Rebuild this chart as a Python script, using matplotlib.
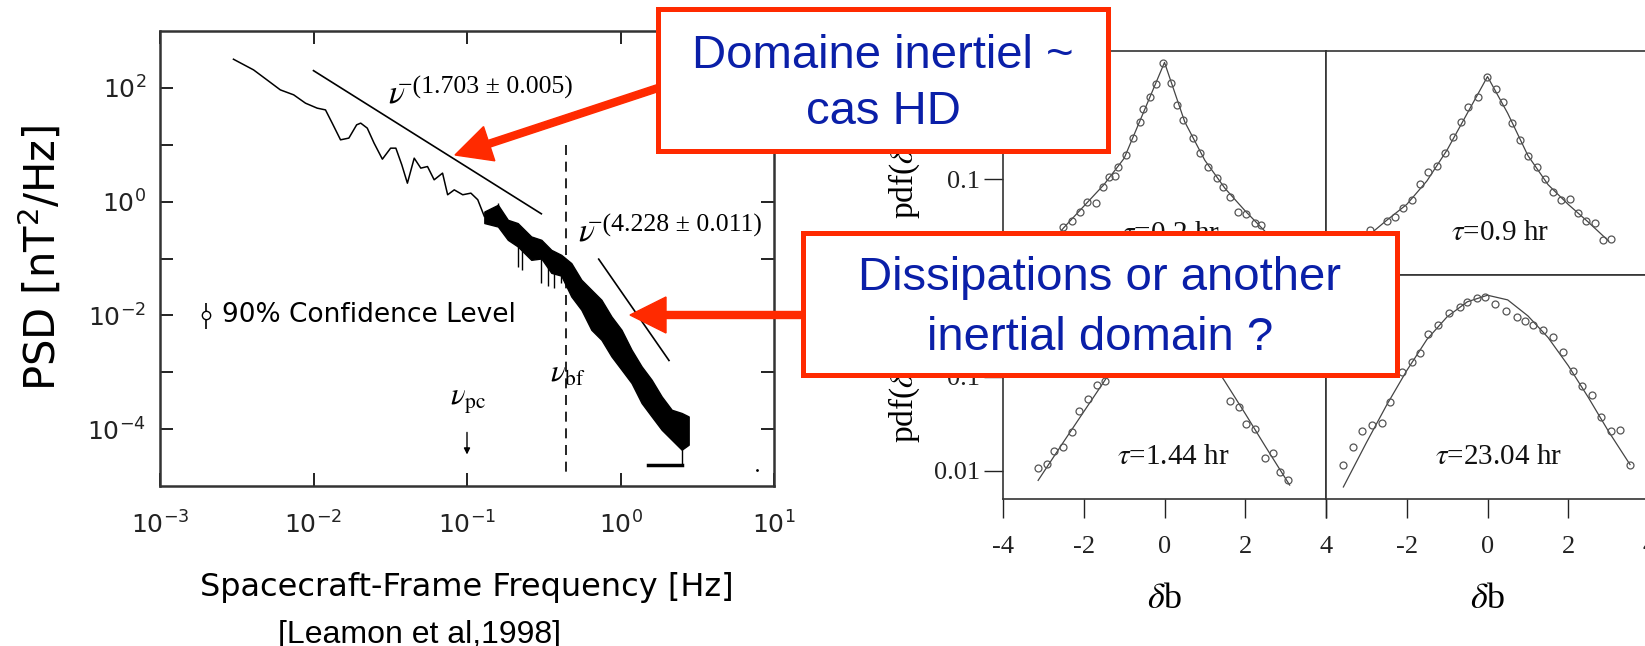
import matplotlib
matplotlib.use('Agg')
import matplotlib.pyplot as plt
from matplotlib.patches import Rectangle, FancyArrow
from matplotlib.transforms import IdentityTransform
from matplotlib.ticker import NullLocator

W, H = 1645, 646
RED = '#ff2a00'
BLUE = '#0a1fa8'
SERIF = 'Liberation Serif'

# ---- left panel: magnetic power spectrum ----
freq_thin = [0.00301, 0.00407, 0.00498, 0.00608, 0.00743, 0.00887, 0.01057, 0.01197,
             0.01324, 0.0150, 0.0170, 0.0191, 0.0203, 0.0224, 0.0248, 0.0281, 0.0318,
             0.0344, 0.0376, 0.0409, 0.0453, 0.0500, 0.0553, 0.0611, 0.0693, 0.0748,
             0.0826, 0.0938, 0.106, 0.1175, 0.1297]
psd_thin = [319, 207, 138, 92.2, 75.4, 53.8, 44.0, 41.0, 24.0, 12.2, 13.1, 22.4, 24.0,
            19.6, 10.7, 5.58, 8.71, 8.71, 4.44, 2.11, 5.81, 3.88, 4.14, 2.42, 3.17, 1.32,
            1.61, 1.32, 1.41, 1.08, 0.55]

freq_band = [0.1297, 0.159, 0.1845, 0.214, 0.262, 0.305, 0.354, 0.411, 0.478, 0.556,
             0.646, 0.751, 0.873, 1.015, 1.18, 1.372, 1.595, 1.854, 2.155, 2.505, 2.78]
psd_band_hi = [0.670, 0.879, 0.479, 0.419, 0.244, 0.213, 0.142, 0.116, 0.083, 0.0423,
               0.0282, 0.0188, 0.00957, 0.00558, 0.00249, 0.00127, 0.000738, 0.000376,
               0.000219, 0.000192, 0.000167]
psd_band_lo = [0.42, 0.365, 0.213, 0.163, 0.0948, 0.100, 0.056, 0.050, 0.0215, 0.01253,
               0.00558, 0.00372, 0.0019, 0.00111, 0.000646, 0.000288, 0.000167, 9.75e-5,
               6.51e-5, 4.35e-5, 5.32e-5]
spike_freq = [0.159, 0.214, 0.228, 0.305, 0.335, 0.368, 0.411, 2.505]
spike_lo = [0.40, 0.0723, 0.063, 0.0374, 0.0322, 0.0308, 0.0374, 2.3e-5]
spike_hi = [0.94, 0.30, 0.30, 0.15, 0.15, 0.13, 0.09, 0.0001]

fit1_freq = [0.0100, 0.305]
fit1_psd = [201, 0.611]
fit2_freq = [0.721, 2.07]
fit2_psd = [0.0975, 0.00161]
nu_bf = 0.444
bf_line_psd = [10, 1.45e-5]
nu_pc = 0.1
pc_arrow_psd = [9.8e-5, 3.2e-5]
conf_bar_freq = [1.52, 2.5]
conf_bar_psd = [2.3e-5, 2.3e-5]

# ---- right panels: pdf(db) for 4 time lags ----
tl_x = [-2.51, -2.30, -2.09, -1.91, -1.70, -1.52, -1.37, -1.23, -1.15, -0.96, -0.77, -0.61,
        -0.53, -0.36, -0.21, -0.03, 0.15, 0.30, 0.46, 0.71, 0.88, 1.08, 1.29, 1.45, 1.62,
        1.82, 2.03, 2.24, 2.38]
tl_pdf = [0.0309, 0.0355, 0.0447, 0.0575, 0.0562, 0.0813, 0.106, 0.108, 0.135, 0.180,
          0.271, 0.407, 0.552, 0.740, 1.03, 1.70, 1.04, 0.612, 0.425, 0.271, 0.187, 0.135,
          0.102, 0.0832, 0.0646, 0.0447, 0.0427, 0.0339, 0.0324]
tl_fit_x = [-3.0, -2.5, -2.0, -1.5, -1.0, -0.5, 0.0, 0.5, 1.0, 1.5, 2.0, 2.5, 3.0]
tl_fit_pdf = [0.0166, 0.0302, 0.0513, 0.0871, 0.166, 0.537, 1.74, 0.407, 0.158, 0.0794,
              0.0457, 0.0275, 0.0158]

tr_x = [-2.91, -2.50, -2.29, -2.09, -1.88, -1.67, -1.48, -1.26, -1.05, -0.85, -0.66, -0.48,
        -0.23, -0.02, 0.20, 0.39, 0.60, 0.80, 1.01, 1.22, 1.42, 1.63, 1.83, 2.04, 2.25,
        2.45, 2.66, 2.86, 3.07]
tr_pdf = [0.0288, 0.0355, 0.0398, 0.0490, 0.0603, 0.0891, 0.120, 0.138, 0.191, 0.282,
          0.407, 0.579, 0.752, 1.22, 0.900, 0.661, 0.398, 0.263, 0.174, 0.135, 0.100,
          0.0724, 0.0603, 0.0617, 0.0437, 0.0355, 0.0339, 0.0224, 0.0229]
tr_fit_x = [-3.0, -2.5, -2.0, -1.5, -1.0, -0.5, 0.0, 0.5, 1.0, 1.5, 2.0, 2.5, 3.0]
tr_fit_pdf = [0.0240, 0.0363, 0.0537, 0.0955, 0.204, 0.501, 1.23, 0.501, 0.178, 0.0871,
              0.0537, 0.0347, 0.0219]

bl_x = [-3.13, -2.92, -2.74, -2.51, -2.30, -2.11, -1.89, -1.68, -1.48, 1.62, 1.85, 2.03,
        2.24, 2.49, 2.69, 2.86, 3.06]
bl_pdf = [0.0107, 0.0120, 0.0162, 0.0182, 0.0263, 0.0437, 0.0589, 0.0813, 0.0912, 0.0562,
          0.0479, 0.0316, 0.0282, 0.0138, 0.0155, 0.00977, 0.00794]
bl_fit_x = [-3.13, -2.5, -2.0, -1.5, -1.0, 0.0, 1.0, 1.5, 2.0, 2.5, 3.1]
bl_fit_pdf = [0.00794, 0.0204, 0.0427, 0.0891, 0.191, 0.708, 0.191, 0.0891, 0.0407,
              0.0182, 0.00708]

br_x = [-3.57, -3.32, -3.11, -2.87, -2.62, -2.42, -2.13, -1.88, -1.67, -1.48, -1.22, -0.96,
        -0.68, -0.50, -0.27, -0.06, 0.18, 0.45, 0.72, 0.92, 1.12, 1.38, 1.62, 1.87, 2.11,
        2.33, 2.58, 2.82, 3.05, 3.28, 3.53]
br_pdf = [0.0117, 0.0182, 0.0269, 0.0309, 0.0324, 0.0537, 0.112, 0.145, 0.178, 0.288,
          0.355, 0.479, 0.550, 0.631, 0.687, 0.705, 0.603, 0.501, 0.437, 0.398, 0.355,
          0.316, 0.269, 0.186, 0.115, 0.0794, 0.0646, 0.0372, 0.0269, 0.0275, 0.0117]
br_fit_x = [-3.57, -3.0, -2.5, -2.0, -1.5, -1.0, -0.5, 0.0, 0.5, 1.0, 1.5, 2.0, 2.5, 3.0, 3.53]
br_fit_pdf = [0.00676, 0.0200, 0.0501, 0.117, 0.251, 0.437, 0.631, 0.741, 0.661, 0.447,
              0.263, 0.132, 0.0603, 0.0263, 0.0117]

tau_labels = [r'$\tau$=0.2 hr', r'$\tau$=0.9 hr', r'$\tau$=1.44 hr', r'$\tau$=23.04 hr']


def px_box(x0, y0, x1, y1):
    # pixel box with top-left origin -> [left, bottom, width, height] in figure fraction
    return [x0 / W, 1 - y1 / H, (x1 - x0) / W, (y1 - y0) / H]


fig = plt.figure(figsize=(W / 100, H / 100), dpi=100)

# ================= left panel =================
ax = fig.add_axes(px_box(160, 31, 774, 486))
ax.set_xscale('log')
ax.set_yscale('log')
ax.set_xlim(1e-3, 1e1)
ax.set_ylim(1e-5, 1e3)

ax.plot(freq_thin, psd_thin, color='k', lw=1.1)
ax.fill_between(freq_band, psd_band_lo, psd_band_hi, color='k', lw=1.0)
ax.vlines(spike_freq, spike_lo, spike_hi, color='k', lw=1.0)
ax.plot(fit1_freq, fit1_psd, color='k', lw=1.2)
ax.plot(fit2_freq, fit2_psd, color='k', lw=1.2)
ax.plot([nu_bf, nu_bf], bf_line_psd, color='k', lw=1.2, dashes=(6, 4))
ax.annotate('', xy=(nu_pc, pc_arrow_psd[1]), xytext=(nu_pc, pc_arrow_psd[0]),
            arrowprops=dict(arrowstyle='-|>', color='k', lw=1.0, mutation_scale=9))
ax.plot(conf_bar_freq, conf_bar_psd, color='k', lw=2.5)
ax.plot([7.7], [1.95e-5], 'k.', ms=2)
ax.errorbar([0.0020], [0.0102], yerr=[[0.0044], [0.0064]], fmt='o', mfc='white',
            mec='k', ecolor='k', ms=6, lw=1.2, capsize=0)

ax.text(0.00254, 0.0102, '90% Confidence Level', fontsize=19, va='center', ha='left')
ax.text(0.0305, 55, r'$\nu$', fontsize=24, math_fontfamily='stix', va='baseline')
ax.text(0.0353, 80, '\u2212(1.703 \u00b1 0.005)', fontsize=18.5, family=SERIF, va='baseline')
ax.text(0.531, 0.205, r'$\nu$', fontsize=24, math_fontfamily='stix', va='baseline')
ax.text(0.615, 0.30, '\u2212(4.228 \u00b1 0.011)', fontsize=18.5, family=SERIF, va='baseline')
ax.text(0.45, 0.00095, r'$\nu_{\rm bf}$', fontsize=22, math_fontfamily='stix',
        ha='center', va='center')
ax.text(0.101, 0.0003, r'$\nu_{\rm pc}$', fontsize=22, math_fontfamily='stix',
        ha='center', va='center')

ax.xaxis.set_minor_locator(NullLocator())
ax.yaxis.set_minor_locator(NullLocator())
ax.set_xticks([1e-3, 1e-2, 1e-1, 1e0, 1e1])
ax.set_xticklabels([r'$10^{-3}$', r'$10^{-2}$', r'$10^{-1}$', r'$10^{0}$', r'$10^{1}$'])
ax.set_yticks([1e-4, 1e-3, 1e-2, 1e-1, 1e0, 1e1, 1e2])
ax.set_yticklabels([r'$10^{-4}$', '', r'$10^{-2}$', '', r'$10^{0}$', '', r'$10^{2}$'])
ax.tick_params(direction='in', length=9.5, width=1.4, top=True, right=True,
               labelsize=18, colors='#222')
ax.tick_params(axis='x', pad=18)
ax.tick_params(axis='y', pad=10)
for s in ax.spines.values():
    s.set_linewidth(1.8)
    s.set_color('#333')
ax.set_xlabel('Spacecraft-Frame Frequency [Hz]', fontsize=23, labelpad=24)
ax.set_ylabel(r'PSD [nT$^2$/Hz]', fontsize=30, labelpad=16)

fig.text(420 / W, 1 - 643 / H, '[Leamon et al,1998]', fontsize=23,
         family='Liberation Sans', ha='center', va='baseline')

# ================= right panels =================
panels = [
    (px_box(1003, 51, 1326, 275), tl_x, tl_pdf, tl_fit_x, tl_fit_pdf, (0.16, 0.0257), (10 ** -2.021, 10 ** 0.362)),
    (px_box(1326, 51, 1649, 275), tr_x, tr_pdf, tr_fit_x, tr_fit_pdf, (0.31, 0.0267), (10 ** -2.021, 10 ** 0.362)),
    (px_box(1003, 275, 1326, 499), bl_x, bl_pdf, bl_fit_x, bl_fit_pdf, (0.21, 0.0141), (10 ** -2.298, 10 ** 0.085)),
    (px_box(1326, 275, 1649, 499), br_x, br_pdf, br_fit_x, br_fit_pdf, (0.28, 0.0141), (10 ** -2.298, 10 ** 0.085)),
]
for i, (pos, xs, ys, fx, fy, tpos, ylim) in enumerate(panels):
    a = fig.add_axes(pos)
    a.set_yscale('log')
    a.set_xlim(-4, 4)
    a.set_ylim(*ylim)
    a.plot(fx, fy, color='#444', lw=0.9)
    a.plot(xs, ys, 'o', ms=5, mfc='none', mec='#555', mew=0.9)
    a.text(tpos[0], tpos[1], tau_labels[i], fontsize=21, family=SERIF,
           math_fontfamily='stix', ha='center', va='center', color='#111')
    for s in a.spines.values():
        s.set_linewidth(1.2)
        s.set_color('#333')
    a.yaxis.set_minor_locator(NullLocator())
    a.tick_params(direction='out', length=13.5, width=1.0, colors='#222', labelsize=19)
    if i % 2 == 0:
        a.set_yticks([0.01, 0.1, 1])
        a.set_yticklabels(['0.01', '0.1', '1'], family=SERIF)
        a.tick_params(axis='y', pad=3)
    else:
        a.set_yticks([])
    if i >= 2:
        a.set_xticks([-4, -2, 0, 2, 4])
        labs = ['-4', '-2', '0', '2', '4'] if i == 2 else ['', '-2', '0', '2', '4']
        a.set_xticklabels(labs, family=SERIF)
        a.tick_params(axis='x', pad=13)
        a.set_xlabel(r'$\delta$b', fontsize=26, family=SERIF, math_fontfamily='stix',
                     labelpad=18)
    else:
        a.set_xticks([])

for ytop in (219, 443):
    fig.text(904 / W, 1 - ytop / H, r'pdf($\delta$b)', rotation=90, fontsize=24,
             family=SERIF, math_fontfamily='stix', ha='center', va='bottom')

# ================= callout boxes and arrows (pixel coords) =================
idt = IdentityTransform()
fig.add_artist(FancyArrow(658, H - 88, 455 - 658, -(155 - 88), width=7, head_width=36,
                          head_length=36, length_includes_head=True, color=RED,
                          transform=idt, zorder=9))
fig.add_artist(FancyArrow(803, H - 315, 630 - 803, 0, width=7, head_width=36,
                          head_length=36, length_includes_head=True, color=RED,
                          transform=idt, zorder=9))
for (x0, y0, x1, y1) in [(658, 9, 1108, 151), (803, 233, 1397, 375)]:
    fig.add_artist(Rectangle((x0, H - y1), x1 - x0, y1 - y0, facecolor='white',
                             edgecolor=RED, lw=3.6, transform=idt, zorder=10))

for (cx, base, txt) in [(883, 68, 'Domaine inertiel ~'), (883, 124, 'cas HD'),
                        (1100, 290, 'Dissipations or another'), (1100, 350, 'inertial domain ?')]:
    fig.text(cx / W, 1 - base / H, txt, fontsize=34, family='Liberation Sans',
             color=BLUE, ha='center', va='baseline', zorder=11)

fig.savefig('out.png', dpi=100)
